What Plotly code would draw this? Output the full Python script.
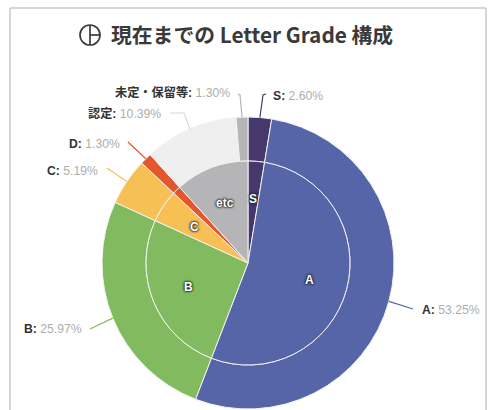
import math
import plotly.graph_objects as go

W, H = 488, 410
CX, CY, R_OUT, R_IN = 248, 263, 146, 102

outer_labels = ["S", "A", "B", "C", "D", "認定", "未定・保留等"]
outer_values = [2.60, 53.25, 25.97, 5.19, 1.30, 10.39, 1.30]
outer_colors = ["#46386a", "#5664a8", "#82bb5f", "#f6c055", "#e4572e", "#efefef", "#b5b5b7"]

inner_labels = ["S", "A", "B", "C", "D", "etc"]
inner_values = [2.60, 53.25, 25.97, 5.19, 1.30, 11.69]
inner_colors = ["#46386a", "#5664a8", "#82bb5f", "#f6c055", "#e4572e", "#b5b5b7"]
inner_visible = ["S", "A", "B", "C", "etc"]

title_text = "現在までの Letter Grade 構成"

# connector bend points and label anchors (layout only, in pixels)
connector_ends = {
    "S": [(263, 95), (266, 94)],
    "A": [(413, 309)],
    "B": [(90, 329)],
    "C": [(107, 168)],
    "D": [(128, 142)],
    "認定": [(184, 113), (170, 113)],
    "未定・保留等": [(240, 95), (238, 94)],
}
label_anchor = {
    "S": (272, 96, "left"),
    "A": (421, 310, "left"),
    "B": (23, 329, "left"),
    "C": (46, 171, "left"),
    "D": (68, 144, "left"),
    "認定": (87, 114, "left"),
    "未定・保留等": (114, 93, "left"),
}


def px(x):
    return x / W


def py(y):
    return 1 - y / H


def mids(values):
    total, run, out = sum(values), 0.0, []
    for v in values:
        out.append((run + v / 2) / total * 2 * math.pi)
        run += v
    return out


def polar(angle, r):
    return CX + r * math.sin(angle), CY - r * math.cos(angle)


def pie(values, labels, colors, radius, hole):
    return go.Pie(
        values=values, labels=labels, sort=False, direction="clockwise", rotation=0,
        hole=hole, textinfo="none", hoverinfo="label+percent", showlegend=False,
        marker=dict(colors=colors, line=dict(color="#f2f2f2", width=1)),
        domain=dict(x=[px(CX - radius), px(CX + radius)], y=[py(CY + radius), py(CY - radius)]),
    )


fig = go.Figure([
    pie(outer_values, outer_labels, outer_colors, R_OUT, R_IN / R_OUT),
    pie(inner_values, inner_labels, inner_colors, R_IN, 0),
])

shapes, annotations = [], []
FRAME = "#c9c9c9"
for x0, y0, x1, y1 in [(10, 8, 10, H), (486, 8, 486, H), (10, 8, 486, 8)]:
    shapes.append(dict(type="line", xref="paper", yref="paper", x0=px(x0), y0=py(y0), x1=px(x1), y1=py(y1),
                       line=dict(color=FRAME, width=1.5)))

# title icon
ICON = "#3a3a3a"
shapes.append(dict(type="circle", xref="paper", yref="paper", x0=px(80), x1=px(100), y0=py(45), y1=py(25),
                   line=dict(color=ICON, width=1.7)))
shapes.append(dict(type="line", xref="paper", yref="paper", x0=px(90), x1=px(90), y0=py(45), y1=py(25),
                   line=dict(color=ICON, width=1.7)))
shapes.append(dict(type="line", xref="paper", yref="paper", x0=px(90), x1=px(100), y0=py(35), y1=py(35),
                   line=dict(color=ICON, width=1.7)))

annotations.append(dict(text=f"<b>{title_text}</b>", xref="paper", yref="paper", x=px(109), y=py(34),
                        xanchor="left", yanchor="middle", showarrow=False,
                        font=dict(family="Noto Sans CJK JP, Liberation Sans", size=20.8, color="#3a3a3a")))

for label, value, color, ang in zip(outer_labels, outer_values, outer_colors, mids(outer_values)):
    sx, sy = polar(ang, R_OUT)
    pts = [(sx, sy)] + connector_ends[label]
    path = "M " + " L ".join(f"{px(x):.5f} {py(y):.5f}" for x, y in pts)
    line_color = "#d8d8d8" if label == "認定" else color
    shapes.append(dict(type="path", path=path, xref="paper", yref="paper", line=dict(color=line_color, width=1.2)))
    ax, ay, anchor = label_anchor[label]
    annotations.append(dict(
        text=f"<b>{label}:</b> <span style='color:#adadad'>{value:.2f}%</span>",
        xref="paper", yref="paper", x=px(ax - 1.5), y=py(ay), xanchor=anchor, yanchor="middle", showarrow=False,
        font=dict(family="Liberation Sans, Noto Sans CJK JP", size=12.2, color="#333333"),
    ))

for label, ang in zip(inner_labels, mids(inner_values)):
    if label not in inner_visible:
        continue
    x, y = polar(ang, 64)
    annotations.append(dict(
        text=f"<b>{label}</b>", xref="paper", yref="paper", x=px(x), y=py(y),
        xanchor="center", yanchor="middle", showarrow=False,
        font=dict(family="Liberation Sans", size=12, color="#ffffff",
                  shadow="0 0 2px #222, 0 0 2px #222, 0 0 3px #222"),
    ))

fig.update_layout(
    width=W, height=H, margin=dict(l=0, r=0, t=0, b=0),
    paper_bgcolor="white", plot_bgcolor="white",
    shapes=shapes, annotations=annotations,
)
fig.write_html("out.html", config={"displayModeBar": False},
               post_script="document.body.style.margin='0';")
